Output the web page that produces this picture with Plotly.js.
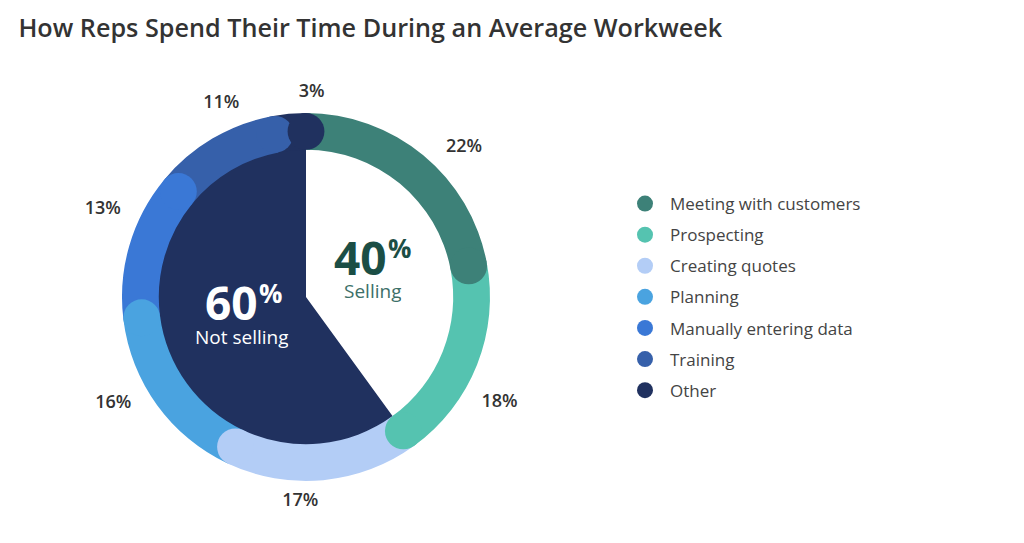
<!DOCTYPE html>
<html>
<head>
<meta charset="utf-8">
<script src="https://cdn.plot.ly/plotly-3.0.1.min.js"></script>
<style>
  html, body { margin: 0; padding: 0; background: #fff; }
  #chart { width: 1024px; height: 543px; }
</style>
</head>
<body>
<div id="chart"></div>
<script>
// Outer ring: how the week is spent (percent)
const activities = ['Meeting with customers', 'Prospecting', 'Creating quotes', 'Planning',
                    'Manually entering data', 'Training', 'Other'];
const shares = [22, 18, 17, 16, 13, 11, 3];
const activityColors = ['#3d8178', '#55c3b0', '#b3cdf6', '#4aa3e0', '#3a78d6', '#3660aa', '#20315f'];

// Inner pie: selling vs not selling
const groups = ['Selling', 'Not selling'];
const groupShares = [40, 60];
const groupColors = ['#ffffff', '#20315f'];

const FONT = '"Open Sans", Lato, sans-serif';
const RING_BASE = 0.8;
const RING_WIDTH = 0.2;
const R_MAX = 1.25;        // radial range, leaves room for the labels
const CX = 306, CY = 297;  // donut centre in px
const R_PX = 230;          // radius of the polar domain in px (r = R_MAX)
const LABEL_SHIFT = 7;     // small clockwise nudge for the outside labels

function toDegrees(values) {
    const total = values.reduce((a, b) => a + b, 0);
    let start = 0;
    return values.map(v => {
        const w = v / total * 360;
        const seg = { start: start, width: w, mid: start + w / 2, end: start + w };
        start += w;
        return seg;
    });
}

// labels sit a little further out at the sides, where the text is wider
function labelRadius(deg) {
    return 1.11 + 0.1 * Math.abs(Math.sin(deg * Math.PI / 180));
}

const ringSegs = toDegrees(shares);
const innerSegs = toDegrees(groupShares);

const traces = [];

// inner pie
traces.push({
    type: 'barpolar',
    theta: innerSegs.map(s => s.mid),
    width: innerSegs.map(s => s.width),
    r: groupShares.map(() => RING_BASE + 0.01),
    base: 0,
    marker: { color: groupColors, line: { width: 0 } },
    text: groups,
    hoverinfo: 'text',
    showlegend: false
});

// outer ring
traces.push({
    type: 'barpolar',
    theta: ringSegs.map(s => s.mid),
    width: ringSegs.map(s => s.width),
    r: shares.map(() => RING_WIDTH),
    base: RING_BASE,
    marker: { color: activityColors, line: { width: 0 } },
    text: activities,
    hoverinfo: 'text',
    showlegend: false
});

// rounded end caps, one trace per activity so they also make the legend
activities.forEach((name, i) => {
    traces.push({
        type: 'scatterpolar',
        mode: 'markers',
        name: name,
        legendgroup: name,
        theta: [ringSegs[i].end],
        r: [RING_BASE + RING_WIDTH / 2],
        marker: { size: RING_WIDTH / R_MAX * R_PX, color: activityColors[i], line: { width: 0 } },
        hoverinfo: 'name'
    });
});

// percentage labels outside the ring
const labelTheta = ringSegs.map(s => s.mid + LABEL_SHIFT);
traces.push({
    type: 'scatterpolar',
    mode: 'text',
    theta: labelTheta,
    r: labelTheta.map(labelRadius),
    text: shares.map(v => v + '%'),
    textfont: { family: FONT, size: 18, color: '#333333', weight: 600 },
    hoverinfo: 'skip',
    showlegend: false
});

function px(x) { return x / 1024; }
function py(y) { return 1 - y / 543; }

function note(text, x, y, size, color, bold, boxHeight) {
    const a = {
        text: bold ? '<b>' + text + '</b>' : text,
        x: px(x), y: py(y), xref: 'paper', yref: 'paper',
        xanchor: 'center', yanchor: 'middle',
        showarrow: false, font: { family: FONT, size: size, color: color }
    };
    if (boxHeight) a.height = boxHeight;
    return a;
}

const layout = {
    width: 1024,
    height: 543,
    margin: { l: 0, r: 0, t: 0, b: 0 },
    paper_bgcolor: '#ffffff',
    font: { family: FONT, color: '#444444' },
    title: {
        text: 'How Reps Spend Their Time During an Average Workweek',
        x: 0.018, xanchor: 'left',
        y: 0.948, yanchor: 'middle',
        font: { family: FONT, size: 25.2, color: '#333333', weight: 600 }
    },
    polar: {
        domain: { x: [px(CX - R_PX), px(CX + R_PX)], y: [py(CY + R_PX), py(CY - R_PX)] },
        bgcolor: 'rgba(0,0,0,0)',
        bargap: 0,
        radialaxis: { range: [0, R_MAX], visible: false },
        angularaxis: { rotation: 90, direction: 'clockwise', visible: false }
    },
    legend: {
        x: px(620), xanchor: 'left',
        y: py(186), yanchor: 'top',
        font: { family: FONT, size: 17, color: '#444444' },
        itemwidth: 40,
        tracegroupgap: 6,
        bgcolor: 'rgba(0,0,0,0)'
    },
    annotations: [
        note('40', 360, 257, 46, '#1b4e45', true, 44),
        note('%', 399, 248, 26, '#1b4e45', true),
        note('Selling', 372, 291, 19, '#3d7068', false, 22),
        note('60', 231, 302, 46, '#ffffff', true, 44),
        note('%', 270, 293, 26, '#ffffff', true),
        note('Not selling', 242, 337, 19, '#ffffff', false, 22)
    ]
};

Plotly.newPlot('chart', traces, layout, { displayModeBar: false, staticPlot: true });
</script>
</body>
</html>
